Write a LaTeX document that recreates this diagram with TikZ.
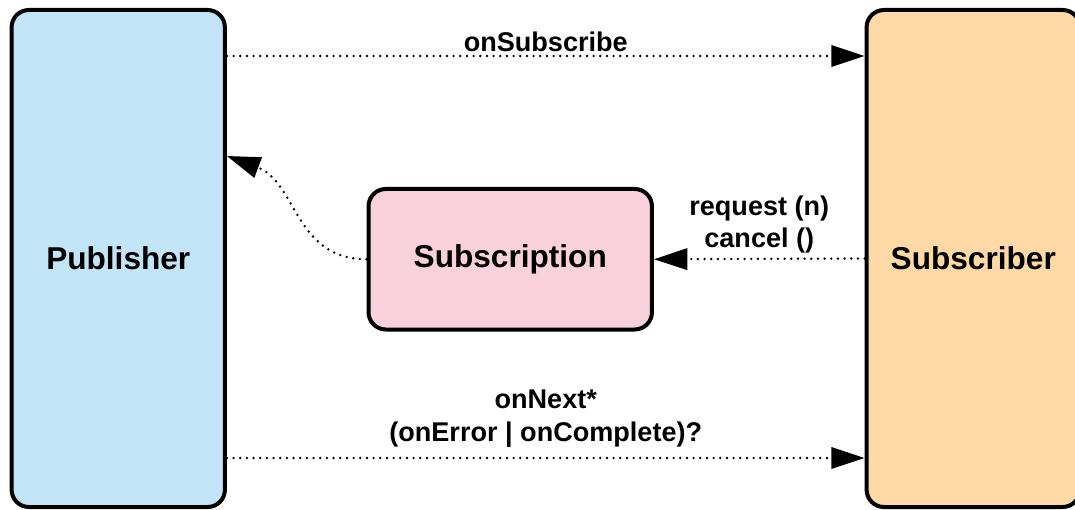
\documentclass[tikz,border=0pt]{standalone}
\usepackage{fontspec}
\setmainfont{Liberation Sans}
\usetikzlibrary{arrows.meta}

\definecolor{pubblue}{RGB}{194,228,246}
\definecolor{subsorange}{RGB}{254,217,166}
\definecolor{subspink}{RGB}{249,209,221}

\begin{document}
\begin{tikzpicture}[x=0.75pt, y=-0.75pt, >={Triangle[length=25pt, width=16pt]},
  every node/.style={font=\bfseries\fontsize{20.3}{24.5}\selectfont},
  actor/.style={draw, line width=3pt, rounded corners=13pt, minimum width=160pt, minimum height=372.75pt, font=\bfseries\fontsize{23.7}{28}\selectfont},
  signal/.style={->, line width=2pt, line cap=round, dash pattern=on 0pt off 5pt},
  msg/.style={align=center, inner sep=0pt}]
  \useasboundingbox (0,0) rectangle (1075,510);

  \node[actor, fill=pubblue] (pub) at (118.25,258.5) {Publisher};
  \node[actor, fill=subsorange] (sub) at (973.25,258.5) {Subscriber};
  \node[actor, fill=subspink, minimum width=212.6pt, minimum height=105.4pt] (subs) at (510.25,259.25) {Subscription};

  \coordinate (subscribe row) at (0,56);
  \coordinate (signal row) at (0,458);
  \coordinate (back tip) at (0,156);

  \draw[signal] (pub.east |- subscribe row) -- (sub.west |- subscribe row) node[msg, midway, above=2pt] {onSubscribe};
  \draw[signal] (sub.west) -- (subs.east) node[msg, midway, above=3pt] {request (n)\\cancel ()};
  \draw[signal] (subs.west) .. controls +(-72,0) and +(70,26) .. (pub.east |- back tip);
  \draw[signal] (pub.east |- signal row) -- (sub.west |- signal row) node[msg, midway, above=7pt] {onNext*\\(onError | onComplete)?};
\end{tikzpicture}
\end{document}
